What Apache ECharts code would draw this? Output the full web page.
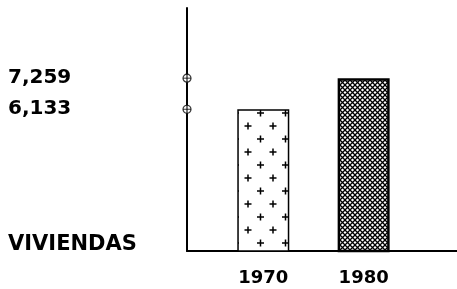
<!DOCTYPE html>
<html lang="en">
<head>
  <meta charset="UTF-8">
  <title>Viviendas</title>
  <script src="https://cdn.jsdelivr.net/npm/echarts@6/dist/echarts.min.js"></script>
  <style>
    body { margin: 0; background: #fff; }
  </style>
</head>
<body>
  <div id="chart" style="width: 457px;height: 289px;"></div>

  <script type="text/javascript">

    const years = [1970, 1980];
    const viviendas = [6133, 7259];
    const axisTitle = 'VIVIENDAS';

    // plus-sign fill for 1970
    function plusPattern() {
      const c = document.createElement('canvas');
      c.width = 25;
      c.height = 26;
      const ctx = c.getContext('2d');
      ctx.fillStyle = '#fff';
      ctx.fillRect(0, 0, 25, 26);
      ctx.strokeStyle = '#000';
      ctx.lineWidth = 1.5;
      [[10.5, 9], [23, 22], [-2, 22]].forEach(([x, y]) => {
        ctx.beginPath();
        ctx.moveTo(x - 3.5, y); ctx.lineTo(x + 3.5, y);
        ctx.moveTo(x, y - 3.5); ctx.lineTo(x, y + 3.5);
        ctx.stroke();
      });
      return c;
    }

    // cross hatch fill for 1980
    function hatchPattern() {
      const c = document.createElement('canvas');
      c.width = 5;
      c.height = 5;
      const ctx = c.getContext('2d');
      ctx.fillStyle = '#fff';
      ctx.fillRect(0, 0, 5, 5);
      ctx.strokeStyle = '#000';
      ctx.lineWidth = 1.3;
      ctx.beginPath();
      ctx.moveTo(-1, -1); ctx.lineTo(6, 6);
      ctx.moveTo(6, -1); ctx.lineTo(-1, 6);
      ctx.stroke();
      return c;
    }

    const fills = [plusPattern(), hatchPattern()];
    const borders = [1.5, 2.5];

    const font = '"DejaVu Sans", sans-serif';
    const xMin = 1962.4;

    const myChart = echarts.init(document.getElementById('chart'));

    const option = {
      animation: false,
      backgroundColor: '#fff',
      grid: { left: 187, right: 0, top: 8, bottom: 38 },
      xAxis: {
        type: 'value',
        min: xMin,
        max: 1989.3,
        splitLine: { show: false },
        axisLine: { show: true, lineStyle: { color: '#000', width: 2 } },
        axisTick: { show: false },
        axisLabel: {
          customValues: years,
          color: '#000',
          fontFamily: font,
          fontWeight: 'bold',
          fontSize: 18,
          margin: 18,
          formatter: v => String(v),
        },
      },
      yAxis: {
        type: 'value',
        min: 1000,
        max: 9800,
        splitLine: { show: false },
        axisLine: { show: true, lineStyle: { color: '#000', width: 2 } },
        axisTick: { show: false },
        axisLabel: {
          customValues: viviendas,
          color: '#000',
          fontFamily: font,
          fontWeight: 'bold',
          fontSize: 20,
          align: 'left',
          margin: 179,
          formatter: v => v.toLocaleString('en-US'),
        },
      },
      graphic: [{
        type: 'text',
        left: 8,
        top: 234,
        style: {
          text: axisTitle,
          fill: '#000',
          font: 'bold 21px ' + font,
        },
      }],
      series: [{
        type: 'bar',
        barWidth: 52,
        data: years.map((y, i) => ({
          value: [y, viviendas[i]],
          itemStyle: {
            color: { image: fills[i], repeat: 'repeat' },
            borderColor: '#000',
            borderWidth: borders[i],
          },
        })),
      }, {
        type: 'scatter',
        symbol: 'circle',
        symbolSize: 8,
        clip: false,
        itemStyle: { color: '#fff', borderColor: '#000', borderWidth: 1.2 },
        data: viviendas.map(v => [xMin, v]),
        z: 3,
      }, {
        type: 'scatter',
        symbol: 'path://M0,-4L0,4M-4,0L4,0',
        symbolSize: 8,
        clip: false,
        itemStyle: { color: 'none', borderColor: '#000', borderWidth: 1 },
        data: viviendas.map(v => [xMin, v]),
        z: 4,
      }],
    };
    myChart.setOption(option);
  </script>
</body>
</html>
